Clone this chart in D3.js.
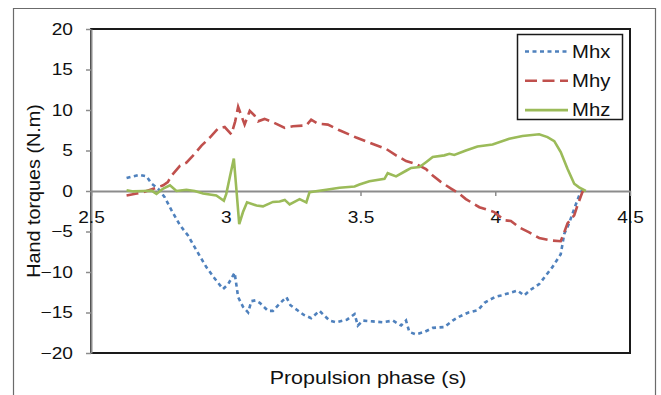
<!DOCTYPE html>
<html>
<head>
<meta charset="utf-8">
<script src="https://cdn.jsdelivr.net/npm/d3@7"></script>
<style>
  body { margin: 0; background: #fff; }
  svg { font-family: "Liberation Sans", Arial, sans-serif; }
</style>
</head>
<body>
<svg width="661" height="395"></svg>
<script>
// [time (s), torque (N.m)]
const mhx = [[2.632, 1.6], [2.655, 1.8], [2.68, 2.0], [2.706, 1.8], [2.725, 0.9], [2.749, 0.3], [2.774, -0.8],
  [2.799, -2.4], [2.83, -4.2], [2.86, -5.5], [2.891, -7.3], [2.928, -9.4], [2.959, -10.8], [2.99, -12.1],
  [3.009, -11.5], [3.033, -10.1], [3.046, -13.1], [3.064, -14.3], [3.083, -15.0], [3.095, -13.6], [3.11, -13.5],
  [3.126, -13.8], [3.157, -14.8], [3.175, -14.8], [3.2, -13.9], [3.225, -13.1], [3.24, -14.1], [3.265, -14.7],
  [3.29, -15.3], [3.317, -15.7], [3.348, -14.8], [3.385, -16.0], [3.41, -16.2], [3.449, -15.9], [3.478, -15.2],
  [3.49, -16.6], [3.509, -16.0], [3.545, -16.1], [3.583, -16.2], [3.62, -16.0], [3.651, -16.6], [3.669, -16.0],
  [3.681, -17.4], [3.706, -17.7], [3.737, -17.4], [3.768, -16.9], [3.811, -16.8], [3.842, -16.0], [3.867, -15.5],
  [3.901, -15.0], [3.936, -14.7], [3.96, -13.8], [3.998, -13.1], [4.021, -12.9], [4.052, -12.6], [4.083, -12.3],
  [4.107, -12.9], [4.131, -12.2], [4.163, -11.5], [4.212, -9.4], [4.243, -7.8], [4.256, -5.3], [4.274, -4.0],
  [4.293, -2.2], [4.311, -0.6], [4.323, 0.1]];

const mhy = [[2.632, -0.55], [2.665, -0.35], [2.694, -0.15], [2.731, 0.27], [2.768, 0.7], [2.785, 1.1], [2.799, 1.9],
  [2.83, 3.1], [2.854, 3.5], [2.885, 4.6], [2.91, 5.6], [2.941, 6.6], [2.971, 7.7], [2.996, 7.9], [3.021, 7.0],
  [3.035, 8.6], [3.046, 10.4], [3.058, 9.3], [3.07, 8.2], [3.089, 9.9], [3.107, 9.3], [3.12, 8.6], [3.144, 8.9],
  [3.175, 8.5], [3.219, 7.8], [3.249, 8.0], [3.299, 8.1], [3.317, 8.8], [3.342, 8.3], [3.379, 8.2], [3.422, 7.5],
  [3.484, 6.6], [3.546, 5.8], [3.595, 5.2], [3.632, 4.4], [3.669, 3.7], [3.706, 3.35], [3.743, 2.7], [3.768, 1.9],
  [3.799, 1.1], [3.836, 0.3], [3.867, -0.35], [3.891, -1.0], [3.941, -2.0], [3.996, -2.6], [4.033, -3.6],
  [4.058, -3.7], [4.089, -4.5], [4.126, -5.1], [4.163, -5.8], [4.206, -6.1], [4.243, -6.2], [4.256, -5.1],
  [4.268, -4.0], [4.293, -3.0], [4.305, -1.8], [4.323, -0.15], [4.338, 0.5]];

const mhz = [[2.632, 0.1], [2.657, -0.05], [2.694, 0.0], [2.725, 0.05], [2.743, -0.35], [2.768, 0.3], [2.793, 0.7],
  [2.817, 0.0], [2.854, 0.15], [2.885, 0.0], [2.916, -0.3], [2.965, -0.55], [2.993, -1.2], [3.002, -0.35],
  [3.015, 1.7], [3.03, 4.0], [3.04, 0.0], [3.05, -4.1], [3.064, -2.6], [3.079, -1.4], [3.114, -1.8], [3.138, -1.9],
  [3.175, -1.35], [3.2, -1.3], [3.219, -1.1], [3.237, -1.65], [3.274, -1.0], [3.299, -1.4], [3.311, -0.15],
  [3.373, 0.15], [3.422, 0.4], [3.478, 0.55], [3.496, 0.8], [3.533, 1.2], [3.589, 1.5], [3.601, 2.2], [3.632, 1.8],
  [3.669, 2.5], [3.688, 2.85], [3.719, 2.95], [3.743, 3.55], [3.768, 4.2], [3.811, 4.4], [3.83, 4.6], [3.848, 4.45],
  [3.891, 5.0], [3.934, 5.5], [3.99, 5.75], [4.052, 6.45], [4.101, 6.8], [4.163, 7.0], [4.194, 6.65], [4.219, 6.15],
  [4.243, 4.8], [4.268, 2.75], [4.293, 0.9], [4.311, 0.45], [4.336, 0.0]];

const seriesNames = ['Mhx', 'Mhy', 'Mhz'];
const xTicks = [2.5, 3, 3.5, 4, 4.5];
const yTicks = [-20, -15, -10, -5, 0, 5, 10, 15, 20];

const series = [
  { name: seriesNames[0], data: mhx, color: '#4f81bd', dash: '4,3.5' },
  { name: seriesNames[1], data: mhy, color: '#c0504d', dash: '12,5.5' },
  { name: seriesNames[2], data: mhz, color: '#9bbb59', dash: null }
];

// text in the reference is a bit wider than Arial
const stretch = 1.16;
function widen(sel, ox, oy) {
  sel.attr('transform', `translate(${ox},${oy}) scale(${stretch},1) translate(${-ox},${-oy})`);
}

const svg = d3.select('svg');

// outer frame
svg.append('path')
  .attr('d', 'M13.5,400 V8.5 H655.5 V400')
  .attr('fill', 'none')
  .attr('stroke', '#6b6b6b')
  .attr('stroke-width', 1.2);

const plotLeft = 91, plotRight = 630, plotTop = 29, plotBottom = 353;

const x = d3.scaleLinear().domain([2.5, 4.5]).range([plotLeft, plotRight]);
const y = d3.scaleLinear().domain([-20, 20]).range([plotBottom, plotTop]);

// plot area border
svg.append('rect')
  .attr('x', plotLeft)
  .attr('y', plotTop)
  .attr('width', plotRight - plotLeft)
  .attr('height', plotBottom - plotTop)
  .attr('fill', 'none')
  .attr('stroke', '#1a1a1a')
  .attr('stroke-width', 2);

// y axis
const yAxis = svg.append('g')
  .attr('transform', `translate(${plotLeft},0)`)
  .call(d3.axisLeft(y).tickValues(yTicks).tickSize(5).tickPadding(13).tickSizeOuter(0));

// x axis at y = 0
const xAxis = svg.append('g')
  .attr('transform', `translate(0,${y(0)})`)
  .call(d3.axisBottom(x).tickValues(xTicks).tickSize(5).tickPadding(15).tickSizeOuter(0)
    .tickFormat(d => String(d)));

[xAxis, yAxis].forEach(a => {
  a.select('.domain').attr('stroke', '#8c8c8c').attr('stroke-width', 2);
  a.selectAll('.tick line').attr('stroke', '#8c8c8c').attr('stroke-width', 1.5);
  a.selectAll('.tick text').attr('font-size', 16.5).attr('fill', '#111');
});
yAxis.selectAll('.tick text').each(function () {
  widen(d3.select(this), +d3.select(this).attr('x'), 0);
});
xAxis.selectAll('.tick text').each(function () {
  widen(d3.select(this), 0, 0);
});

const line = d3.line()
  .x(d => x(d[0]))
  .y(d => y(d[1]));

svg.selectAll('.series')
  .data(series)
  .enter()
  .append('path')
  .attr('class', 'series')
  .attr('d', d => line(d.data))
  .attr('fill', 'none')
  .attr('stroke', d => d.color)
  .attr('stroke-width', 2.6)
  .attr('stroke-dasharray', d => d.dash);

// legend
const legend = svg.append('g');
legend.append('rect')
  .attr('x', 517.5)
  .attr('y', 34.5)
  .attr('width', 105)
  .attr('height', 85)
  .attr('fill', '#fff')
  .attr('stroke', '#1a1a1a')
  .attr('stroke-width', 1.5);

const rows = legend.selectAll('.row')
  .data(series)
  .enter()
  .append('g')
  .attr('transform', (d, i) => `translate(0,${51.5 + i * 29.3})`);

rows.append('line')
  .attr('x1', 525)
  .attr('x2', 568)
  .attr('stroke', d => d.color)
  .attr('stroke-width', 2.6)
  .attr('stroke-dasharray', d => d.dash);

rows.append('text')
  .attr('x', 572)
  .attr('dy', '0.36em')
  .attr('font-size', 17.5)
  .attr('fill', '#111')
  .text(d => d.name)
  .each(function () { widen(d3.select(this), 572, 0); });

// axis titles
svg.append('text')
  .attr('x', 368)
  .attr('y', 384)
  .attr('text-anchor', 'middle')
  .attr('font-size', 18.5)
  .attr('fill', '#111')
  .text('Propulsion phase (s)')
  .call(widen, 368, 384);

svg.append('text')
  .attr('transform', 'translate(40,191) rotate(-90) scale(1.07,1)')
  .attr('text-anchor', 'middle')
  .attr('font-size', 18.5)
  .attr('fill', '#111')
  .text('Hand torques (N.m)');
</script>
</body>
</html>
